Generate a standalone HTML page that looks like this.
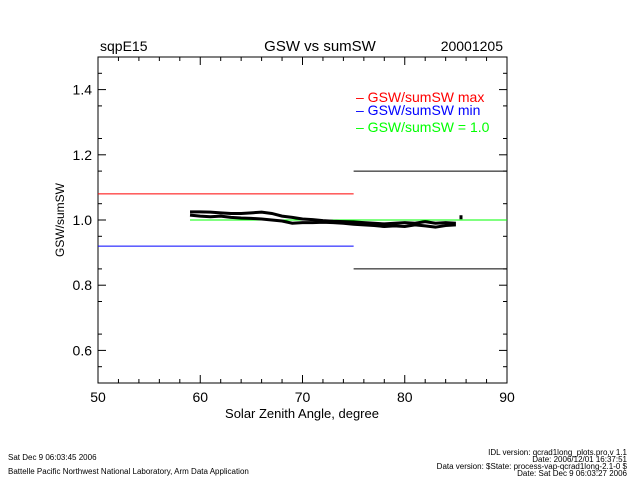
<!DOCTYPE html>
<html><head><meta charset="utf-8"><style>
body{margin:0;background:#fff;width:640px;height:480px;overflow:hidden}
text{font-family:"Liberation Sans",sans-serif}
</style></head><body>
<svg id="chart" width="640" height="480" viewBox="0 0 640 480" xmlns="http://www.w3.org/2000/svg">
<text x="100" y="51" font-size="14">sqpE15</text>
<text x="320" y="51" font-size="15" text-anchor="middle">GSW vs sumSW</text>
<text x="503" y="51" font-size="14" text-anchor="end">20001205</text>
<rect x="98" y="57" width="409" height="326" fill="none" stroke="#000" stroke-width="1"/>
<g id="axes"></g>
<g id="marks"></g>
<g font-size="14">
<text x="356" y="102" fill="#f00">– GSW/sumSW  max</text>
<text x="356" y="115" fill="#00f">– GSW/sumSW  min</text>
<text x="356" y="132" fill="#0f0">– GSW/sumSW  = 1.0</text>
</g>
<text x="302" y="418" font-size="13" text-anchor="middle">Solar Zenith Angle, degree</text>
<text transform="translate(64,220) rotate(-90)" font-size="12" text-anchor="middle">GSW/sumSW</text>
<g font-size="8" font-family="Liberation Mono">
<text x="8" y="460">Sat Dec  9 06:03:45 2006</text>
<text x="8" y="474">Battelle Pacific Northwest National Laboratory, Arm Data Application</text>
<text x="627" y="455" text-anchor="end">IDL version: qcrad1long_plots.pro,v 1.1</text>
<text x="627" y="462" text-anchor="end">Date: 2006/12/01 16:37:51</text>
<text x="627" y="469" text-anchor="end">Data version: $State: process-vap-qcrad1long-2.1-0 $</text>
<text x="627" y="476" text-anchor="end">Date: Sat Dec  9 06:03:27 2006</text>
</g>
</svg>
<script>
const xTicks=[50,60,70,80,90];
const yTicks=[0.6,0.8,1.0,1.2,1.4];
const yTickLabels=["0.6","0.8","1.0","1.2","1.4"];
const angles=[59,60,61,62,63,64,65,66,67,68,69,70,71,72,73,74,75,76,77,78,79,80,81,82,83,84,85];
const ratioHi=[1.025,1.025,1.024,1.022,1.02,1.02,1.022,1.024,1.02,1.012,1.008,1.003,1.001,0.998,0.996,0.995,0.994,0.992,0.99,0.988,0.99,0.992,0.99,0.995,0.99,0.992,0.99];
const ratioLo=[1.015,1.012,1.01,1.012,1.008,1.006,1.005,1.003,1.0,0.997,0.99,0.992,0.992,0.993,0.992,0.99,0.987,0.985,0.983,0.98,0.982,0.98,0.985,0.982,0.978,0.983,0.985];
const outlierAngle=[85.5];const outlierVal=[1.01];
const limitMax=[1.08], limitMin=[0.92], limitMaxHigh=[1.15], limitMinHigh=[0.85], splitAngle=[75], unityStart=[59];
const NS="http://www.w3.org/2000/svg";
const X0=98,X1=507,Y0=383,Y1=57,xmin=50,xmax=90,ymin=0.5,ymax=1.5;
const sx=v=>X0+(v-xmin)/(xmax-xmin)*(X1-X0);
const sy=v=>Y0-(v-ymin)/(ymax-ymin)*(Y0-Y1);
const axes=document.getElementById('axes'),marks=document.getElementById('marks');
function mk(t,a,p){const e=document.createElementNS(NS,t);for(const k in a)e.setAttribute(k,a[k]);p.appendChild(e);return e;}
xTicks.forEach((v,i)=>{
 const t=mk('line',{x1:sx(v),x2:sx(v),y1:Y0,y2:Y0-8,stroke:'#000'},axes);
 
 
 const l=mk('text',{x:sx(v),y:Y0+19,'font-size':14,'text-anchor':'middle'},axes);l.textContent=v;
 
 
 if(i<xTicks.length-1)for(let m=1;m<5;m++){const mv=v+m*2;mk('line',{x1:sx(mv),x2:sx(mv),y1:Y0,y2:Y0-4,stroke:'#000'},axes);mk('line',{x1:sx(mv),x2:sx(mv),y1:Y1,y2:Y1+4,stroke:'#000'},axes);}
 mk('line',{x1:sx(v),x2:sx(v),y1:Y1,y2:Y1+8,stroke:'#000'},axes);
});
yTicks.forEach((v,i)=>{
 const t=mk('line',{x1:X0,x2:X0+8,y1:sy(v),y2:sy(v),stroke:'#000'},axes);
 
 
 mk('line',{x1:X1,x2:X1-8,y1:sy(v),y2:sy(v),stroke:'#000'},axes);
 const l=mk('text',{x:X0-6,y:sy(v)+5,'font-size':14,'text-anchor':'end'},axes);l.textContent=yTickLabels[i];
 
 
});
for(let v=0.55;v<1.5;v+=0.1){mk('line',{x1:X0,x2:X0+4,y1:sy(v),y2:sy(v),stroke:'#000'},axes);mk('line',{x1:X1,x2:X1-4,y1:sy(v),y2:sy(v),stroke:'#000'},axes);}
function hline(y,a,b,c,n){const e=mk('line',{x1:sx(a),x2:sx(b),y1:sy(y),y2:sy(y),stroke:c,'stroke-width':1},marks);}
hline(limitMax[0],xmin,splitAngle[0],'#f00','max-limit-line');
hline(limitMin[0],xmin,splitAngle[0],'#00f','min-limit-line');
hline(limitMaxHigh[0],splitAngle[0],xmax,'#000','max-limit-line-high');
hline(limitMinHigh[0],splitAngle[0],xmax,'#000','min-limit-line-high');
hline(1.0,unityStart[0],xmax,'#0f0','unity-line');
[ratioHi,ratioLo].forEach((s,k)=>{
 const p=mk('polyline',{points:angles.map((a,i)=>sx(a)+','+sy(s[i])).join(' '),fill:'none',stroke:'#000','stroke-width':3},marks);
 
 
});
outlierAngle.forEach((a,i)=>{const r=mk('rect',{x:sx(a)-1.5,y:sy(outlierVal[i])-1.5,width:3,height:4,fill:'#000'},marks);
 
 });
</script>
</body></html>
